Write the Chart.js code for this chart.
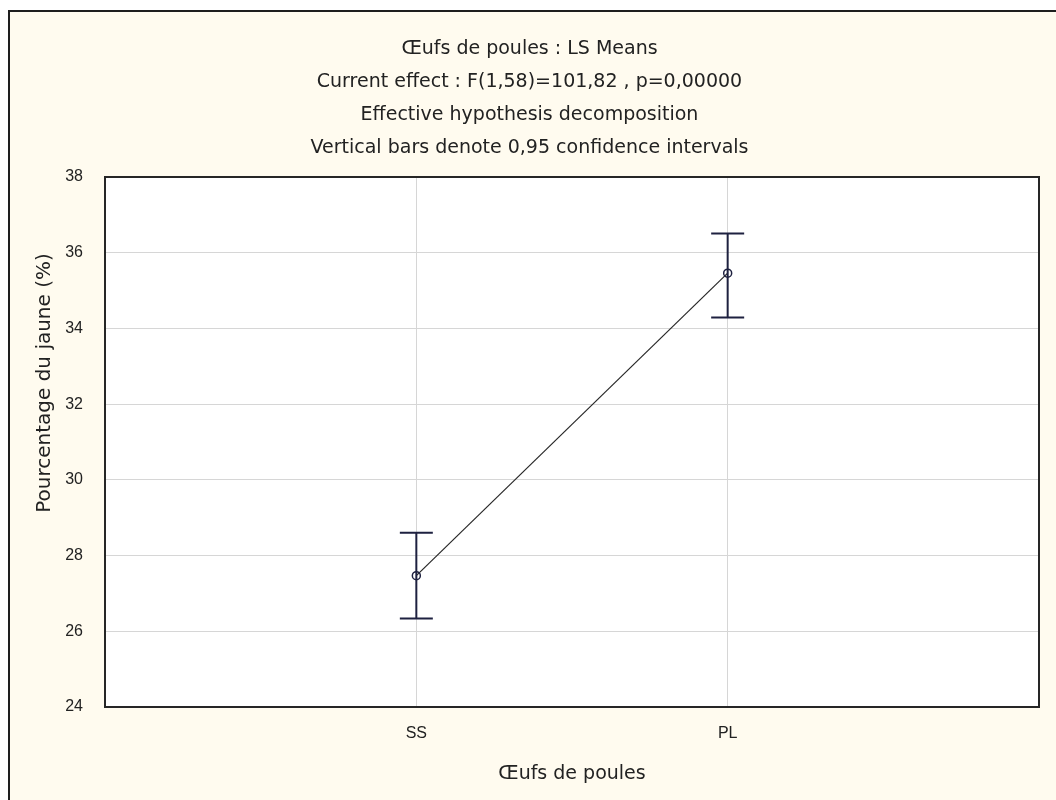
<!DOCTYPE html>
<html>
<head>
<meta charset="utf-8">
<title>Œufs de poules : LS Means</title>
<script src="https://cdn.jsdelivr.net/npm/chart.js@4.4.1/dist/chart.umd.min.js"></script>
<style>
  body { margin: 0; background: #ffffff; }
  #cadre {
    position: absolute; left: 8px; top: 10px; width: 1048px; height: 790px;
    border-left: 2px solid #1e1e1e; border-top: 2px solid #1e1e1e;
    background: #fffbef;
  }
  #graph { position: absolute; left: 0; top: 0; }
</style>
</head>
<body>
<div id="cadre"></div>
<canvas id="graph" width="1056" height="800"></canvas>
<script>
/* =======================
   DONNEES
======================= */
const titres = [
  "Œufs de poules : LS Means",
  "Current effect : F(1,58)=101,82 , p=0,00000",
  "Effective hypothesis decomposition",
  "Vertical bars denote 0,95 confidence intervals"
];
const groupes = ["SS", "PL"];
const moyennes = [27.47, 35.46];
const bornesInf = [26.34, 34.29];
const bornesSup = [28.60, 36.51];
const yMin = 24;
const yMax = 38;
const yPas = 2;
const titreX = "Œufs de poules";
const titreY = "Pourcentage du jaune (%)";

// une case vide de chaque cote pour que SS et PL tombent au tiers / deux tiers
const labels = [""].concat(groupes, [""]);
const serie = [null].concat(moyennes, [null]);

const policeTexte = "'DejaVu Sans', sans-serif";
const policeChiffres = "'Liberation Sans', Arial, sans-serif";

/* =======================
   PLUGINS
======================= */
// fond blanc + cadre noir de la zone de trace
const zoneTrace = {
  id: "zoneTrace",
  beforeDraw(chart) {
    const a = chart.chartArea;
    const ctx = chart.ctx;
    ctx.save();
    ctx.fillStyle = "#ffffff";
    ctx.fillRect(a.left, a.top, a.right - a.left, a.bottom - a.top);
    ctx.restore();
  },
  afterDraw(chart) {
    const a = chart.chartArea;
    const ctx = chart.ctx;
    ctx.save();
    ctx.strokeStyle = "#262626";
    ctx.lineWidth = 2;
    ctx.strokeRect(a.left, a.top, a.right - a.left, a.bottom - a.top);

    // titre de l'axe Y (decale vers le haut comme sur l'original)
    ctx.translate(45, 383);
    ctx.rotate(-Math.PI / 2);
    ctx.fillStyle = "#222222";
    ctx.font = "20px " + policeTexte;
    ctx.textAlign = "center";
    ctx.textBaseline = "middle";
    ctx.fillText(titreY, 0, 0);
    ctx.restore();
  }
};

// barres d'intervalle de confiance
const barresErreur = {
  id: "barresErreur",
  afterDatasetsDraw(chart) {
    const xs = chart.scales.x;
    const ys = chart.scales.y;
    const ctx = chart.ctx;
    ctx.save();
    ctx.strokeStyle = "#1e2140";
    ctx.lineWidth = 2;
    groupes.forEach((g, i) => {
      const x = xs.getPixelForValue(i + 1);
      const yHaut = ys.getPixelForValue(bornesSup[i]);
      const yBas = ys.getPixelForValue(bornesInf[i]);
      ctx.beginPath();
      ctx.moveTo(x, yHaut);
      ctx.lineTo(x, yBas);
      ctx.moveTo(x - 16.5, yHaut);
      ctx.lineTo(x + 16.5, yHaut);
      ctx.moveTo(x - 16.5, yBas);
      ctx.lineTo(x + 16.5, yBas);
      ctx.stroke();
    });
    ctx.restore();
  }
};

/* =======================
   GRAPHIQUE
======================= */
new Chart(document.getElementById("graph"), {
  type: "line",
  data: {
    labels: labels,
    datasets: [{
      data: serie,
      borderColor: "#262626",
      borderWidth: 1.2,
      pointRadius: 4,
      pointBorderWidth: 1.5,
      pointBorderColor: "#1e2140",
      pointBackgroundColor: "rgba(255,255,255,0)",
      tension: 0
    }]
  },
  options: {
    responsive: false,
    animation: false,
    layout: { padding: { left: 13, right: 10, top: 0, bottom: 0 } },
    plugins: {
      legend: { display: false },
      tooltip: { enabled: false },
      title: {
        display: true,
        text: titres,
        color: "#222222",
        font: { family: policeTexte, size: 19, weight: "normal", lineHeight: 33 / 19 },
        padding: { top: 33, bottom: 12 }
      }
    },
    scales: {
      x: {
        type: "category",
        offset: false,
        afterFit: s => { s.height = 93; },
        grid: { color: "#d6d6d6", drawTicks: false },
        border: { display: false },
        ticks: {
          color: "#222222",
          padding: 17,
          autoSkip: false,
          maxRotation: 0,
          font: { family: policeChiffres, size: 16 }
        },
        title: {
          display: true,
          text: titreX,
          color: "#222222",
          font: { family: policeTexte, size: 19 },
          padding: { top: 0, bottom: 15 }
        }
      },
      y: {
        min: yMin,
        max: yMax,
        afterFit: s => { s.width = 92; },
        grid: { color: "#d6d6d6", drawTicks: false },
        border: { display: false },
        ticks: {
          stepSize: yPas,
          color: "#222222",
          padding: 22,
          font: { family: policeChiffres, size: 16 }
        }
      }
    }
  },
  plugins: [zoneTrace, barresErreur]
});
</script>
</body>
</html>
